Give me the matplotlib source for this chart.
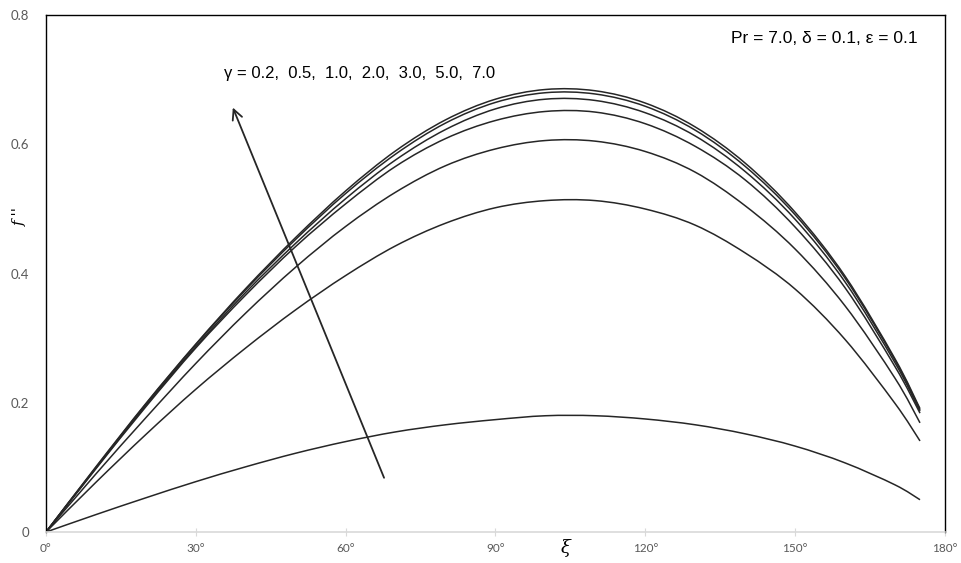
import matplotlib.pyplot as plt
from matplotlib.path import Path
from matplotlib.patches import PathPatch

# angle xi in degrees
xi = [0, 10, 20, 30, 40, 50, 60, 70, 80, 90, 100, 110, 120, 130, 140, 150, 160, 170, 175]

gammas = ["0.2", "0.5", "1.0", "2.0", "3.0", "5.0", "7.0"]

f_g02 = [0, 0.027, 0.053, 0.078, 0.101, 0.122, 0.140, 0.155, 0.166, 0.174, 0.180,
         0.180, 0.175, 0.166, 0.152, 0.133, 0.107, 0.073, 0.050]
f_g05 = [0, 0.077, 0.151, 0.221, 0.285, 0.344, 0.397, 0.443, 0.478, 0.502, 0.513,
         0.513, 0.500, 0.475, 0.432, 0.376, 0.298, 0.199, 0.141]
f_g10 = [0, 0.090, 0.177, 0.261, 0.339, 0.410, 0.473, 0.526, 0.567, 0.593, 0.606,
         0.605, 0.589, 0.557, 0.505, 0.438, 0.350, 0.238, 0.169]
f_g20 = [0, 0.098, 0.194, 0.285, 0.367, 0.442, 0.508, 0.566, 0.609, 0.637, 0.651,
         0.650, 0.632, 0.597, 0.545, 0.472, 0.378, 0.256, 0.184]
f_g30 = [0, 0.099, 0.196, 0.287, 0.371, 0.447, 0.516, 0.576, 0.623, 0.655, 0.670,
         0.668, 0.649, 0.613, 0.558, 0.484, 0.387, 0.262, 0.187]
f_g50 = [0, 0.100, 0.198, 0.290, 0.375, 0.453, 0.524, 0.585, 0.633, 0.665, 0.680,
         0.678, 0.659, 0.622, 0.566, 0.491, 0.393, 0.266, 0.189]
f_g70 = [0, 0.101, 0.199, 0.291, 0.377, 0.456, 0.528, 0.590, 0.638, 0.670, 0.685,
         0.683, 0.664, 0.627, 0.571, 0.495, 0.396, 0.268, 0.191]

series = [f_g02, f_g05, f_g10, f_g20, f_g30, f_g50, f_g70]

x_ticks = [0, 30, 60, 90, 120, 150, 180]
y_ticks = [0, 0.2, 0.4, 0.6, 0.8]


def smoothed_path(xs, ys):
    # Excel-style smoothed line: cubic Bezier segments through the points
    pts = list(zip(xs, ys))
    n = len(pts)
    verts = [pts[0]]
    codes = [Path.MOVETO]
    for i in range(n - 1):
        p0 = pts[max(i - 1, 0)]
        p1 = pts[i]
        p2 = pts[i + 1]
        p3 = pts[min(i + 2, n - 1)]
        c1 = (p1[0] + (p2[0] - p0[0]) / 6, p1[1] + (p2[1] - p0[1]) / 6)
        c2 = (p2[0] - (p3[0] - p1[0]) / 6, p2[1] - (p3[1] - p1[1]) / 6)
        verts += [c1, c2, p2]
        codes += [Path.CURVE4] * 3
    return Path(verts, codes)


fig = plt.figure(figsize=(9.62, 5.63), dpi=100)
ax = fig.add_axes([0.0478, 0.055, 0.9345, 0.918])

for ys in series:
    ax.add_patch(PathPatch(smoothed_path(xi, ys), fill=False, edgecolor="#262626", lw=1.1))

ax.set_xlim(0, 180)
ax.set_ylim(0, 0.8)
ax.set_xticks(x_ticks)
ax.set_xticklabels([f"{t}\u00b0" for t in x_ticks], family="Lato", fontsize=8.5, color="#595959")
ax.set_yticks(y_ticks)
ax.set_yticklabels(["0", "0.2", "0.4", "0.6", "0.8"], family="Lato", fontsize=9.5, color="#595959")
ax.tick_params(axis="y", length=0, pad=12)
ax.tick_params(axis="x", direction="inout", length=6, color="#d9d9d9", pad=5)

for side in ["left", "top", "right"]:
    ax.spines[side].set_color("black")
    ax.spines[side].set_linewidth(1.0)
ax.spines["bottom"].set_color("#d9d9d9")
ax.spines["bottom"].set_linewidth(1.2)

# axis labels placed like the original
ax.text(104.0, -0.025, "\u03be", ha="center", va="center", fontsize=13,
        family="DejaVu Serif", style="italic", clip_on=False)
fig.text(0.021, 0.615, "f ''", rotation=90, ha="center", va="center", fontsize=11,
         family="DejaVu Serif", style="italic")

ax.text(0.970, 0.955, "Pr = 7.0, \u03b4 = 0.1, \u03b5 = 0.1", transform=ax.transAxes,
        ha="right", va="center", fontsize=12.5, family="Liberation Sans")
ax.text(0.198, 0.888, "\u03b3 = 0.2,  0.5,  1.0,  2.0,  3.0,  5.0,  7.0", transform=ax.transAxes,
        ha="left", va="center", fontsize=12, family="Liberation Sans")

ax.annotate("", xy=(37.2, 0.661), xytext=(67.9, 0.080),
            arrowprops=dict(arrowstyle="->", color="#262626", lw=1.3, mutation_scale=18))

fig.savefig("out.png", dpi=100)
